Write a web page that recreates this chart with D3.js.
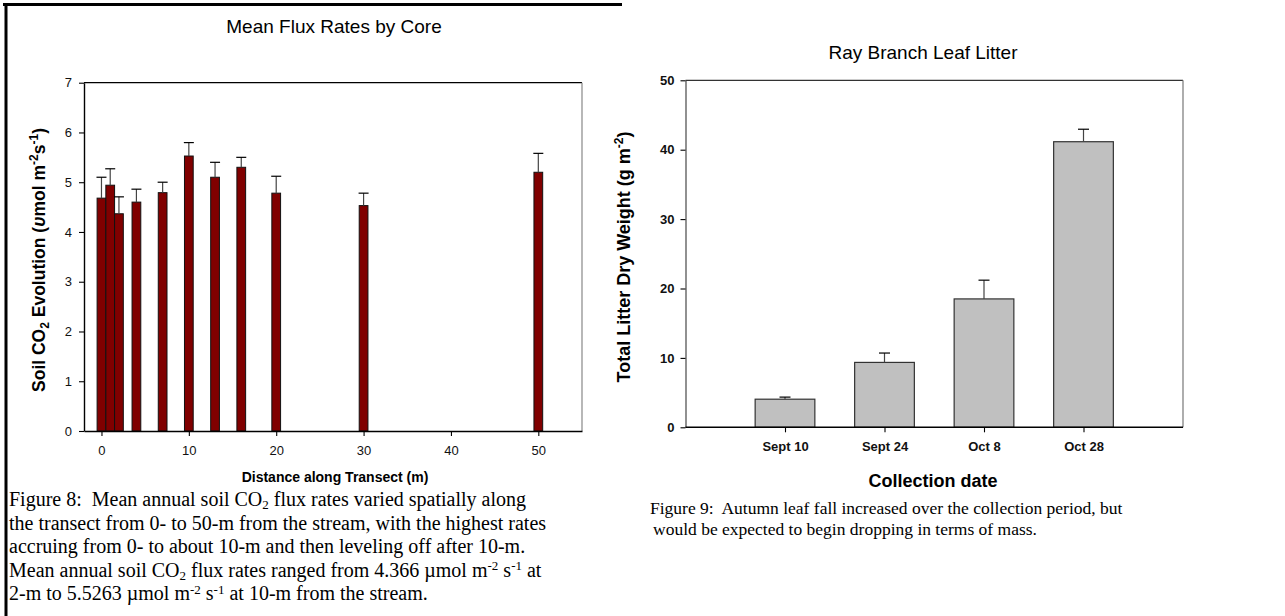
<!DOCTYPE html>
<html>
<head>
<meta charset="utf-8">
<script src="https://cdn.jsdelivr.net/npm/d3@7"></script>
<style>
  html, body { margin: 0; padding: 0; background: #fff; }
  svg { display: block; }
  .sans { font-family: "Liberation Sans", Arial, sans-serif; }
  .serif { font-family: "Liberation Serif", "Times New Roman", serif; }
</style>
</head>
<body>
<svg id="page" width="1285" height="616"></svg>
<script>
// Mean soil CO2 flux per core along the transect
const coreDistance = [0, 1, 2, 4, 7, 10, 13, 16, 20, 30, 50];
const coreFlux     = [4.68, 4.94, 4.366, 4.60, 4.79, 5.5263, 5.10, 5.30, 4.78, 4.53, 5.20];
const coreFluxErr  = [0.42, 0.33, 0.34, 0.26, 0.21, 0.27, 0.30, 0.20, 0.34, 0.25, 0.38];
const fluxYTicks   = [0, 1, 2, 3, 4, 5, 6, 7];
const fluxXTicks   = [0, 10, 20, 30, 40, 50];

// Leaf litter collections
const litterDates  = ["Sept 10", "Sept 24", "Oct 8", "Oct 28"];
const litterMass   = [4.05, 9.35, 18.5, 41.15];
const litterErr    = [0.3, 1.35, 2.7, 1.8];
const litterYTicks = [0, 10, 20, 30, 40, 50];

const NB = "\u00A0";
const svg = d3.select("#page");

// page frame (top and left rules)
svg.append("line").attr("x1", 3).attr("x2", 622).attr("y1", 4.5).attr("y2", 4.5)
  .attr("stroke", "#000").attr("stroke-width", 3);
svg.append("line").attr("x1", 6).attr("x2", 6).attr("y1", 3).attr("y2", 616)
  .attr("stroke", "#000").attr("stroke-width", 3);

/* ---------------- Figure 8: flux by core ---------------- */
const L = { left: 84, right: 582, top: 82.7, bottom: 431 };
const fx = d3.scaleLinear().domain([-2, 55]).range([L.left, L.right]);
const fy = d3.scaleLinear().domain([0, 7]).range([L.bottom, L.top]);
const gL = svg.append("g").attr("class", "sans");

gL.append("text").attr("x", 334).attr("y", 33).attr("text-anchor", "middle")
  .attr("font-size", 19).text("Mean Flux Rates by Core");

// frame top + right
gL.append("line").attr("x1", L.left).attr("x2", L.right).attr("y1", L.top).attr("y2", L.top)
  .attr("stroke", "#000").attr("stroke-width", 1.2);
gL.append("line").attr("x1", L.right).attr("x2", L.right).attr("y1", L.top).attr("y2", L.bottom)
  .attr("stroke", "#888").attr("stroke-width", 1.2);

// bars
const unitW = fx(1) - fx(0);
gL.selectAll("rect.core").data(coreDistance).join("rect").attr("class", "core")
  .attr("x", d => fx(d) - unitW / 2)
  .attr("width", unitW)
  .attr("y", (d, i) => fy(coreFlux[i]))
  .attr("height", (d, i) => fy(0) - fy(coreFlux[i]))
  .attr("fill", "#800000").attr("stroke", "#111").attr("stroke-width", 1);

// error bars
const errL = gL.append("g");
coreDistance.forEach((d, i) => {
  const top = fy(coreFlux[i] + coreFluxErr[i]);
  errL.append("line").attr("x1", fx(d)).attr("x2", fx(d))
    .attr("y1", fy(coreFlux[i])).attr("y2", top).attr("stroke", "#444").attr("stroke-width", 1.2);
  errL.append("line").attr("x1", fx(d) - 5).attr("x2", fx(d) + 5)
    .attr("y1", top).attr("y2", top).attr("stroke", "#000").attr("stroke-width", 1.2);
});

// axes
const axL = gL.append("g").attr("transform", `translate(${L.left},0)`)
  .call(d3.axisLeft(fy).tickValues(fluxYTicks).tickFormat(d3.format("d"))
    .tickSize(5).tickSizeOuter(0).tickPadding(7));
const axB = gL.append("g").attr("transform", `translate(0,${L.bottom})`)
  .call(d3.axisBottom(fx).tickValues(fluxXTicks).tickFormat(d3.format("d"))
    .tickSize(5).tickSizeOuter(0).tickPadding(10));
[axL, axB].forEach(a => {
  a.select(".domain").attr("stroke", "#000").attr("stroke-width", 1.4);
  a.selectAll(".tick line").attr("stroke", "#000").attr("stroke-width", 1.1);
  a.selectAll(".tick text").attr("font-size", 13).attr("fill", "#111")
    .attr("font-family", "Liberation Sans, Arial, sans-serif");
});

gL.append("text").attr("x", 335).attr("y", 482).attr("text-anchor", "middle")
  .attr("font-size", 14).attr("font-weight", "bold").text("Distance along Transect (m)");

const yTitleL = gL.append("text").attr("transform", "translate(44.5,260) rotate(-90)")
  .attr("text-anchor", "middle").attr("font-size", 17.5).attr("font-weight", "bold");
yTitleL.append("tspan").text("Soil CO");
yTitleL.append("tspan").attr("font-size", 12).attr("dy", 4).text("2");
yTitleL.append("tspan").attr("dy", -4).text(" Evolution (");
yTitleL.append("tspan").attr("font-style", "italic").text("υ");
yTitleL.append("tspan").text("mol m");
yTitleL.append("tspan").attr("font-size", 12).attr("dy", -7).text("-2");
yTitleL.append("tspan").attr("dy", 7).text("s");
yTitleL.append("tspan").attr("font-size", 12).attr("dy", -7).text("-1");
yTitleL.append("tspan").attr("dy", 7).text(")");

/* ---------------- Figure 9: leaf litter ---------------- */
const R = { left: 685.5, right: 1183, top: 80.3, bottom: 427.3 };
const step = (R.right - R.left) / (litterDates.length + 1);
const lx = d3.scalePoint().domain(litterDates).range([R.left + step, R.right - step]);
const ly = d3.scaleLinear().domain([0, 50]).range([R.bottom, R.top]);
const gR = svg.append("g").attr("class", "sans");

gR.append("text").attr("x", 923).attr("y", 58.5).attr("text-anchor", "middle")
  .attr("font-size", 19).text("Ray Branch Leaf Litter");

gR.append("line").attr("x1", R.left).attr("x2", R.right).attr("y1", R.top).attr("y2", R.top)
  .attr("stroke", "#333").attr("stroke-width", 1.2);
gR.append("line").attr("x1", R.right).attr("x2", R.right).attr("y1", R.top).attr("y2", R.bottom)
  .attr("stroke", "#777").attr("stroke-width", 1.2);

const barW = step * 0.6;
gR.selectAll("rect.litter").data(litterDates).join("rect").attr("class", "litter")
  .attr("x", d => lx(d) - barW / 2)
  .attr("width", barW)
  .attr("y", (d, i) => ly(litterMass[i]))
  .attr("height", (d, i) => ly(0) - ly(litterMass[i]))
  .attr("fill", "#c0c0c0").attr("stroke", "#333").attr("stroke-width", 1.2);

const errR = gR.append("g");
litterDates.forEach((d, i) => {
  const top = ly(litterMass[i] + litterErr[i]);
  errR.append("line").attr("x1", lx(d)).attr("x2", lx(d))
    .attr("y1", ly(litterMass[i])).attr("y2", top).attr("stroke", "#444").attr("stroke-width", 1.2);
  errR.append("line").attr("x1", lx(d) - 5.5).attr("x2", lx(d) + 5.5)
    .attr("y1", top).attr("y2", top).attr("stroke", "#000").attr("stroke-width", 1.2);
});

const axRL = gR.append("g").attr("transform", `translate(${R.left},0)`)
  .call(d3.axisLeft(ly).tickValues(litterYTicks).tickFormat(d3.format("d"))
    .tickSize(5).tickSizeOuter(0).tickPadding(6));
const axRB = gR.append("g").attr("transform", `translate(0,${R.bottom})`)
  .call(d3.axisBottom(lx).tickSize(5).tickSizeOuter(0).tickPadding(9));
axRB.select(".domain").attr("d", `M${R.left},0H${R.right}`);
axRL.select(".domain").attr("stroke", "#555").attr("stroke-width", 1.3);
axRB.select(".domain").attr("stroke", "#000").attr("stroke-width", 1.6);
[axRL, axRB].forEach(a => {
  a.selectAll(".tick line").attr("stroke", "#000").attr("stroke-width", 1.1);
  a.selectAll(".tick text").attr("font-size", 13).attr("font-weight", "bold").attr("fill", "#111")
    .attr("font-family", "Liberation Sans, Arial, sans-serif");
});

gR.append("text").attr("x", 933).attr("y", 487).attr("text-anchor", "middle")
  .attr("font-size", 18).attr("font-weight", "bold").text("Collection date");

const yTitleR = gR.append("text").attr("transform", "translate(630,257) rotate(-90)")
  .attr("text-anchor", "middle").attr("font-size", 18).attr("font-weight", "bold");
yTitleR.append("tspan").text("Total Litter Dry Weight (g m");
yTitleR.append("tspan").attr("font-size", 12).attr("dy", -7).text("-2");
yTitleR.append("tspan").attr("dy", 7).text(")");

/* ---------------- captions ---------------- */
// one caption line built from plain, subscript and superscript runs
function captionLine(g, x, y, parts, small, subShift, supShift) {
  const t = g.append("text").attr("x", x).attr("y", y);
  let offset = 0;
  parts.forEach(p => {
    const s = t.append("tspan").text(p.t);
    let target = 0;
    if (p.sub) { s.attr("font-size", small); target = subShift; }
    if (p.sup) { s.attr("font-size", small); target = -supShift; }
    if (target !== offset) s.attr("dy", target - offset);
    offset = target;
  });
  return t;
}

// Figure 8 caption
const capL = svg.append("g").attr("class", "serif").attr("font-size", 20).attr("fill", "#000");
const lhL = 23.5, capLx = 9, capLy = 506;
const capL8 = (k, parts) => captionLine(capL, capLx, capLy + k * lhL, parts, 13, 3, 6.5);
capL8(0, [
  { t: "Figure 8:" + NB + " Mean annual soil CO" }, { t: "2", sub: true },
  { t: " flux rates varied spatially along" }
]);
capL8(1, [{ t: "the transect from 0- to 50-m from the stream, with the highest rates" }]);
capL8(2, [{ t: "accruing from 0- to about 10-m and then leveling off after 10-m." }]);
capL8(3, [
  { t: "Mean annual soil CO" }, { t: "2", sub: true },
  { t: " flux rates ranged from 4.366 µmol m" }, { t: "-2", sup: true },
  { t: " s" }, { t: "-1", sup: true }, { t: " at" }
]);
capL8(4, [
  { t: "2-m to 5.5263 µmol m" }, { t: "-2", sup: true },
  { t: " s" }, { t: "-1", sup: true }, { t: " at 10-m from the stream." }
]);

// Figure 9 caption
const capR = svg.append("g").attr("class", "serif").attr("font-size", 17.5).attr("fill", "#000");
captionLine(capR, 650, 514, [
  { t: "Figure 9:" + NB + " Autumn leaf fall increased over the collection period, but" }
], 12, 3, 6);
captionLine(capR, 653, 535, [
  { t: "would be expected to begin dropping in terms of mass." }
], 12, 3, 6);
</script>
</body>
</html>
